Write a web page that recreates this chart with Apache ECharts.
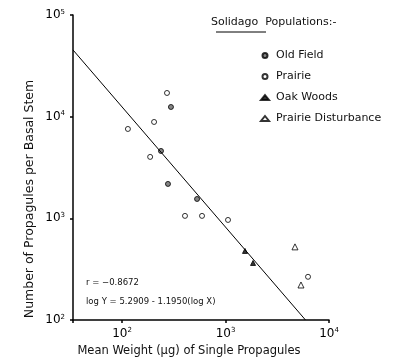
<!DOCTYPE html>
<html><head><meta charset="utf-8">
<script src="https://cdn.jsdelivr.net/npm/echarts@6/dist/echarts.min.js"></script>
<style>html,body{margin:0;padding:0;background:#fff}#c{width:411px;height:361px}</style>
</head><body><div id="c"></div>
<script>
const seriesNames = ['Old Field', 'Prairie', 'Oak Woods', 'Prairie Disturbance'];
// [mean weight (µg), propagules per basal stem]
const oldField = [[297, 12450], [238, 4600], [278, 2180], [531, 1550]];
const prairie = [[272, 17100], [204, 8870], [114, 7570], [187, 4020], [406, 1057], [593, 1057], [1057, 964], [6270, 266]];
const oakWoods = [[1542, 478], [1845, 364]];
const prairieDisturbance = [[5360, 221], [4690, 524]];
const fitLine = [[33.6, 45300], [5930, 100]];
const xTicks = [100, 1000, 10000];
const yTicks = [100, 1000, 10000, 100000];
const rText = 'r = \u22120.8672';
const eqText = 'log Y = 5.2909 - 1.1950(log X)';

const FONT = '"DejaVu Sans", sans-serif';
function powLabel(v) {
  const e = Math.log10(v);
  if (Math.abs(e - Math.round(e)) > 1e-6) return '';
  return '10{s|' + Math.round(e) + '}';
}
const chart = echarts.init(document.getElementById('c'), null, {renderer: 'canvas'});
const styles = {
  'Old Field': {symbol: 'circle', size: 5, color: '#666'},
  'Prairie': {symbol: 'circle', size: 5, color: '#fff'},
  'Oak Woods': {symbol: 'triangle', size: 5, color: '#000'},
  'Prairie Disturbance': {symbol: 'triangle', size: 6, color: '#fff'}
};
function sc(name, data) {
  const s = styles[name];
  return {
    name, type: 'scatter', data, symbol: s.symbol, symbolSize: s.size,
    itemStyle: {color: s.color, borderColor: '#000', borderWidth: 1}
  };
}
chart.setOption({
  animation: false,
  backgroundColor: '#fff',
  textStyle: {fontFamily: FONT},
  grid: {left: 73, right: 82, top: 15, bottom: 41},
  legend: {
    orient: 'vertical', left: 255, top: 45, itemGap: 10, itemWidth: 8, itemHeight: 5,
    textStyle: {fontSize: 11, color: '#111', fontFamily: FONT, padding: [0, 0, 0, 2]},
    data: seriesNames.map(n => ({name: n}))
  },
  xAxis: {
    type: 'log', logBase: 10, min: fitLine[0][0], max: xTicks[2],
    axisLine: {onZero: false, lineStyle: {color: '#000', width: 1.5}},
    axisTick: {show: true, inside: false, length: 3, lineStyle: {color: '#000', width: 1.5}},
    splitLine: {show: false},
    axisLabel: {
      formatter: powLabel, color: '#000', fontSize: 12, margin: 7,
      rich: {s: {fontSize: 7, verticalAlign: 'top', padding: [0, 0, 6, 0]}}
    }
  },
  yAxis: {
    type: 'log', logBase: 10, min: yTicks[0], max: yTicks[3],
    axisLine: {onZero: false, lineStyle: {color: '#000', width: 1.5}},
    axisTick: {show: true, length: 3, lineStyle: {color: '#000', width: 1.5}},
    splitLine: {show: false},
    axisLabel: {
      formatter: powLabel, color: '#000', fontSize: 12, margin: 8,
      rich: {s: {fontSize: 7, verticalAlign: 'top', padding: [0, 0, 6, 0]}}
    }
  },
  series: [
    sc('Old Field', oldField),
    sc('Prairie', prairie),
    sc('Oak Woods', oakWoods),
    sc('Prairie Disturbance', prairieDisturbance),
    {type: 'line', data: fitLine, symbol: 'none', lineStyle: {color: '#000', width: 1}, silent: true}
  ],
  graphic: [
    {type: 'text', left: 211, top: 17, style: {text: 'Solidago  Populations:-', font: '11px ' + FONT, fill: '#111'}},
    {type: 'line', shape: {x1: 216, y1: 32, x2: 266, y2: 32}, style: {stroke: '#000', lineWidth: 1}},
    {type: 'text', left: 86, top: 278, style: {text: rText, font: '8.5px ' + FONT, fill: '#111'}},
    {type: 'text', left: 86, top: 297, style: {text: eqText, font: '8.5px ' + FONT, fill: '#111'}},
    {type: 'text', x: 30, y: 199, rotation: Math.PI / 2, style: {text: 'Number of Propagules per Basal Stem', font: '12.5px ' + FONT, fill: '#111', align: 'center', verticalAlign: 'middle'}},
    {type: 'text', x: 189, y: 351, style: {text: 'Mean Weight (\u03bcg) of Single Propagules', font: '11.5px ' + FONT, fill: '#111', align: 'center', verticalAlign: 'middle'}}
  ]
});
</script></body></html>
